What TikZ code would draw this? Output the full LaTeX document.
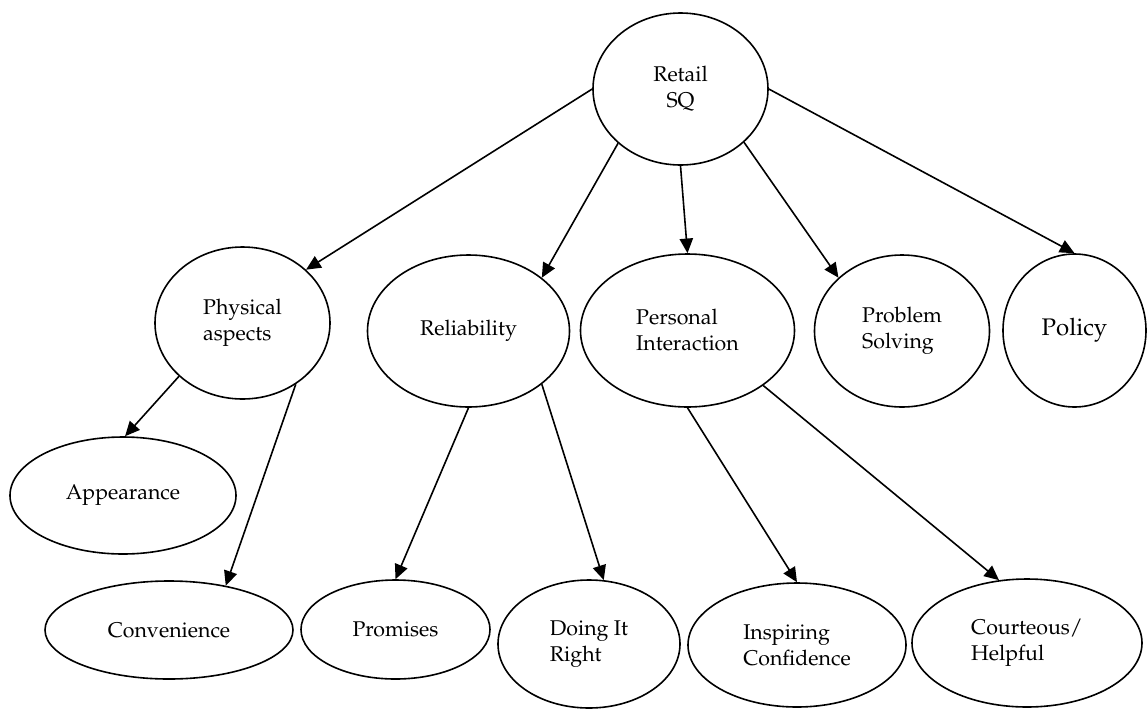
\documentclass[tikz,border=0pt]{standalone}
\usepackage[T1]{fontenc}
\usepackage{mathpazo}
\usetikzlibrary{shapes.geometric,arrows.meta}

\tikzset{every picture/.style={line width=1.2pt}}
\tikzset{
  oval/.style 2 args={ellipse, draw, inner sep=0pt, align=left,
    minimum width={1.5pt*#1}, minimum height={1.5pt*#2},
    font=\fontsize{16}{19.5}\selectfont},
  conn/.style={-{Triangle[length=11pt,width=10pt]}},
}

\begin{document}
\begin{tikzpicture}[x=0.75pt,y=0.75pt,yscale=-1,xscale=1]
	\useasboundingbox (0,0) rectangle (1147,708);

	% Top node
	\node[oval={87.5}{76}, align=center] (retail) at (680.5,89) {Retail\\SQ};

	% Dimensions
	\node[oval={87.5}{76}] (physical) at (242.5,323) {Physical\\aspects};
	\node[oval={101}{76}] (reliability) at (468.5,331) {Reliability};
	\node[oval={107}{76.5}] (personal) at (687.5,330.5) {Personal\\Interaction};
	\node[oval={87.5}{76}] (problem) at (902,331) {Problem\\Solving};
	\node[oval={71.5}{76.5}, font=\fontsize{18}{21}\selectfont] (policy) at (1074.5,330.5) {Policy};

	% Sub-dimensions
	\node[oval={113}{58.5}] (appearance) at (123,495.5) {Appearance};
	\node[oval={124}{49}] (convenience) at (169,630) {Convenience};
	\node[oval={94.5}{49.5}] (promises) at (395.5,629.5) {Promises};
	\node[oval={91}{64}] (doing) at (589,644) {Doing It\\Right};
	\node[oval={109}{62}] (inspiring) at (797,645) {Inspiring\\Confidence};
	\node[oval={115}{64}] (courteous) at (1027,643) {Courteous/\\Helpful};

	% Arrows from Retail SQ
	\draw[conn] (retail.180) -- (physical.40);
	\draw[conn] (retail.221) -- (reliability.36);
	\draw[conn] (retail.270) -- (personal.90);
	\draw[conn] (retail.320) -- (problem.140);
	\draw[conn] (retail.0) -- (policy.90);

	% Arrows to sub-dimensions
	\draw[conn] (physical.220) -- (appearance.88);
	\draw[conn] (physical.311) -- (convenience.38);
	\draw[conn] (reliability.270) -- (promises.90);
	\draw[conn] (reliability.324) -- (doing.77);
	\draw[conn] (personal.270) -- (inspiring.90);
	\draw[conn] (personal.324) -- (courteous.114);

\end{tikzpicture}
\end{document}
